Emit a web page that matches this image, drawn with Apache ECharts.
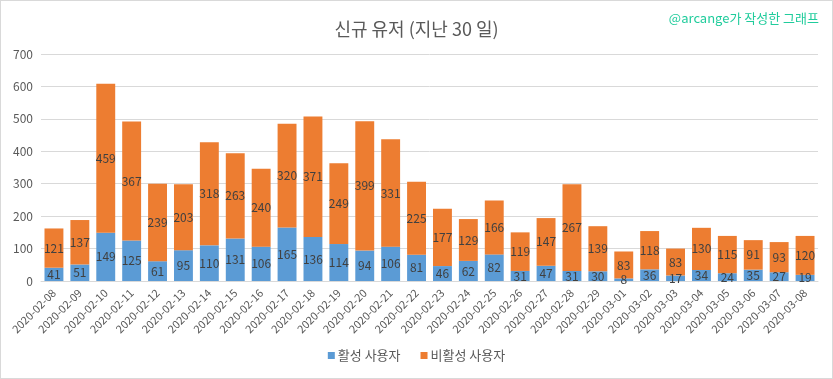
<!DOCTYPE html>
<html>
<head>
<meta charset="utf-8">
<script src="https://cdn.jsdelivr.net/npm/echarts@6/dist/echarts.min.js"></script>
<style>
html,body{margin:0;padding:0;background:#fff;}
#c{width:833px;height:379px;box-sizing:border-box;border:1px solid #d9d9d9;}
</style>
</head>
<body>
<div id="c"></div>
<script>
const categories = ["2020-02-08","2020-02-09","2020-02-10","2020-02-11","2020-02-12","2020-02-13","2020-02-14","2020-02-15","2020-02-16","2020-02-17","2020-02-18","2020-02-19","2020-02-20","2020-02-21","2020-02-22","2020-02-23","2020-02-24","2020-02-25","2020-02-26","2020-02-27","2020-02-28","2020-02-29","2020-03-01","2020-03-02","2020-03-03","2020-03-04","2020-03-05","2020-03-06","2020-03-07","2020-03-08"];
const activeUsers = [41,51,149,125,61,95,110,131,106,165,136,114,94,106,81,46,62,82,31,47,31,30,8,36,17,34,24,35,27,19];
const inactiveUsers = [121,137,459,367,239,203,318,263,240,320,371,249,399,331,225,177,129,166,119,147,267,139,83,118,83,130,115,91,93,120];
const seriesNames = ["활성 사용자","비활성 사용자"];
const titleText = "신규 유저 (지난 30 일)";
const creditText = "@arcange가 작성한 그래프";

const FONT = "'Noto Sans CJK KR', 'Noto Sans', sans-serif";
const chart = echarts.init(document.getElementById('c'), null, {renderer:'canvas'});
const labelStyle = {show:true, position:'inside', color:'#404040', fontSize:12, fontFamily:FONT};
chart.setOption({
  animation:false,
  textStyle:{fontFamily:FONT},
  title:[
    {text:titleText, left:'center', top:14, textStyle:{color:'#595959', fontSize:18, fontWeight:'normal', fontFamily:FONT}},
    {text:creditText, right:8, top:6, textStyle:{color:'#20cc9c', fontSize:13, fontWeight:'normal', fontFamily:FONT}}
  ],
  legend:{
    bottom:11, left:'center', itemWidth:7, itemHeight:7, itemGap:20,
    icon:'rect',
    textStyle:{color:'#595959', fontSize:13, fontFamily:FONT, padding:[0,0,0,-2]},
    data:seriesNames
  },
  grid:{left:40, right:14, top:53, bottom:97, containLabel:false},
  xAxis:{
    type:'category', data:categories,
    axisLine:{lineStyle:{color:'#d9d9d9'}},
    axisTick:{show:false},
    axisLabel:{rotate:45, color:'#595959', fontSize:11, interval:0, margin:10, fontFamily:FONT}
  },
  yAxis:{
    type:'value', min:0, max:700, interval:100,
    axisLine:{show:false}, axisTick:{show:false},
    splitLine:{lineStyle:{color:'#d9d9d9'}},
    axisLabel:{color:'#595959', fontSize:12, margin:8, fontFamily:FONT}
  },
  series:[
    {name:seriesNames[0], type:'bar', stack:'total', data:activeUsers, barCategoryGap:'27%',
     itemStyle:{color:'#5b9bd5'}, label:labelStyle},
    {name:seriesNames[1], type:'bar', stack:'total', data:inactiveUsers, barCategoryGap:'27%',
     itemStyle:{color:'#ed7d31'}, label:labelStyle}
  ]
});
</script>
</body>
</html>
